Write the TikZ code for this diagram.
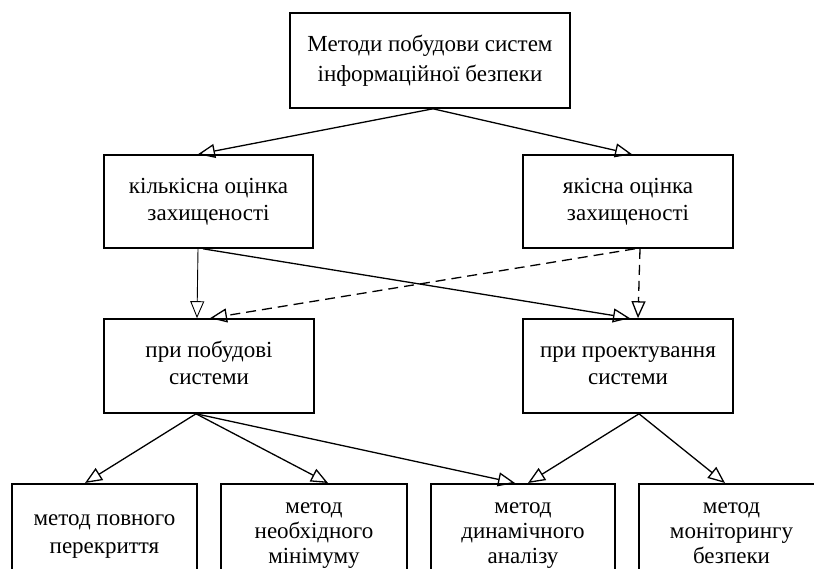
\documentclass[tikz,border=0pt]{standalone}
\usepackage{fontspec}
\setmainfont{Liberation Serif}
\usetikzlibrary{arrows.meta,calc}
\begin{document}
\begin{tikzpicture}[x=1pt,y=-1pt,
  box/.style={draw,line width=1.6pt,align=center,inner sep=0pt,
    font=\fontsize{23}{27}\selectfont},
  bbox/.style={box,anchor=north,minimum height=100pt,font=\fontsize{23}{25}\selectfont},
  conn/.style={line width=1.3pt,-{Triangle[open,length=17pt,width=14pt]}},
  dconn/.style={conn,dash pattern=on 10pt off 6pt}]
\useasboundingbox (0,0) rectangle (814,569);
\fill[white] (0,0) rectangle (814,569);
\node[box,minimum width=280pt,minimum height=95pt,font=\fontsize{23}{30}\selectfont] (top) at (430,60.5)
  {\strut Методи побудови систем\\інформаційної безпеки\strut};
\node[box,minimum width=209pt,minimum height=93pt] (kil) at (208.5,201.5) {\strut кількісна оцінка\\захищеності\strut};
\node[box,minimum width=210pt,minimum height=93pt] (yak) at (628,201.5) {\strut якісна оцінка\\захищеності\strut};
\node[box,minimum width=210pt,minimum height=94pt] (pb) at (209,366) {\strut при побудові\\системи\strut};
\node[box,minimum width=210pt,minimum height=94pt] (pp) at (628,366) {\strut при проектування\\системи\strut};
\node[bbox,minimum width=185pt,font=\fontsize{23}{28}\selectfont] (m1) at (104.5,483) {\strut метод повного\\перекриття\strut};
\node[bbox,minimum width=186pt] (m2) at (314,483) {\strut метод\\необхідного\\мінімуму\strut};
\node[bbox,minimum width=184pt] (m3) at (523,483) {\strut метод\\динамічного\\аналізу\strut};
\node[bbox,minimum width=185pt] (m4) at (731.5,483) {\strut метод\\моніторингу\\безпеки\strut};
% level 1 -> 2
\draw[conn] ($(top.south)+(3,0)$) -- ($(kil.north)+(-10.5,0)$);
\draw[conn] ($(top.south)+(3,0)$) -- ($(yak.north)+(4,0)$);
% level 2 -> 3
\draw[conn,line width=0.9pt] ($(kil.south)+(-10.5,0)$) -- ($(pb.north)+(-12,0)$);
\draw[conn] ($(kil.south)+(-5.5,0)$) -- ($(pp.north)+(2,0)$);
\draw[dconn] ($(yak.south)+(12,0)$) -- ($(pp.north)+(10,0)$);
\draw[dconn] ($(yak.south)+(7,0)$) -- ($(pb.north)+(1,0)$);
% level 3 -> 4
\draw[conn] ($(pb.south)+(-13,0)$) -- ($(m1.north)+(-19.5,0)$);
\draw[conn] ($(pb.south)+(-13,0)$) -- ($(m2.north)+(14,0)$);
\draw[conn] ($(pb.south)+(-13,0)$) -- ($(m3.north)+(-8,0)$);
\draw[conn] ($(pp.south)+(11,0)$) -- ($(m3.north)+(5,0)$);
\draw[conn] ($(pp.south)+(11,0)$) -- ($(m4.north)+(-6.5,0)$);
\end{tikzpicture}
\end{document}
